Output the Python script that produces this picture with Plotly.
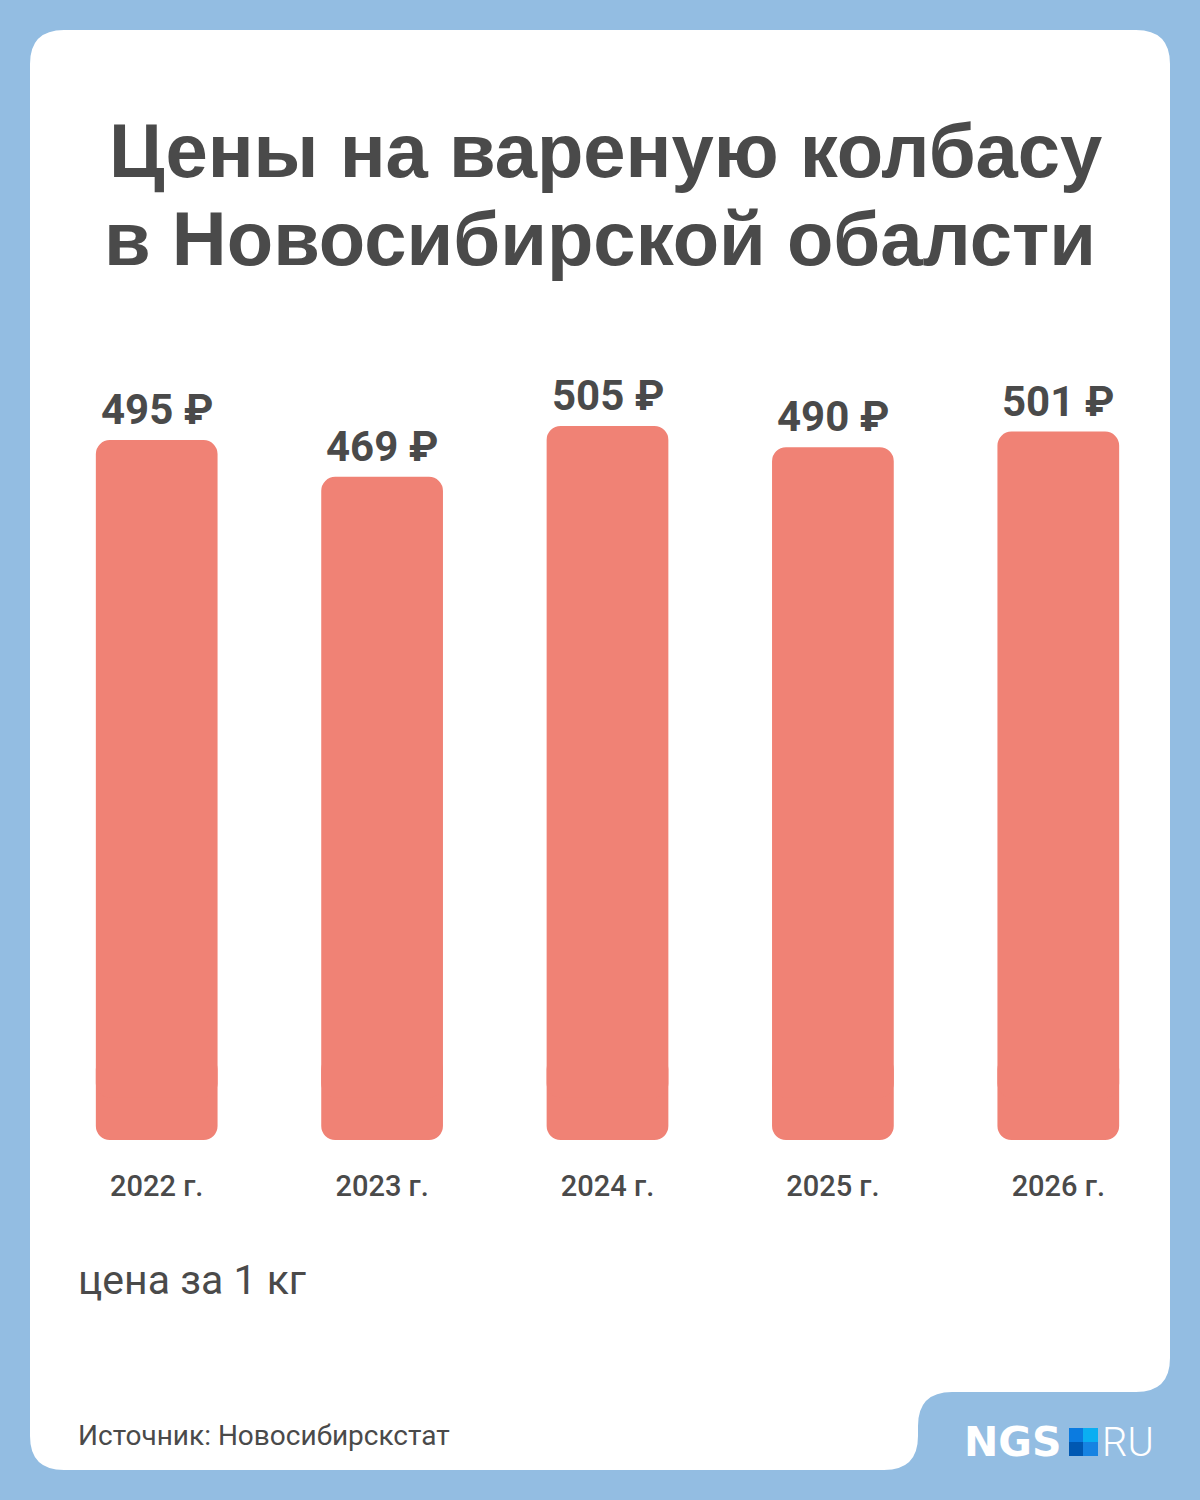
import plotly.graph_objects as go

# Data
years = ["2022 г.", "2023 г.", "2024 г.", "2025 г.", "2026 г."]
prices = [495, 469, 505, 490, 501]
price_labels = ["495 ₽", "469 ₽", "505 ₽", "490 ₽", "501 ₽"]

W, H = 1200, 1500
BG = "#93bde2"
BAR = "#f08275"
INK = "#4a4a4a"


def px(x):
    """pixel x -> paper x (margins are zero)"""
    return x / W


def py(y):
    """pixel y (from top) -> paper y"""
    return 1 - y / H


def card_path():
    # white card with a notch in the lower right corner for the logo
    r = 34
    pts = [
        f"M {px(30 + r)},{py(30)}",
        f"L {px(1170 - r)},{py(30)}",
        f"Q {px(1170)},{py(30)} {px(1170)},{py(30 + r)}",
        f"L {px(1170)},{py(1358)}",
        f"Q {px(1170)},{py(1392)} {px(1136)},{py(1392)}",
        f"L {px(952)},{py(1392)}",
        f"Q {px(918)},{py(1392)} {px(918)},{py(1426)}",
        f"L {px(918)},{py(1436)}",
        f"Q {px(918)},{py(1470)} {px(884)},{py(1470)}",
        f"L {px(30 + r)},{py(1470)}",
        f"Q {px(30)},{py(1470)} {px(30)},{py(1470 - r)}",
        f"L {px(30)},{py(30 + r)}",
        f"Q {px(30)},{py(30)} {px(30 + r)},{py(30)} Z",
    ]
    return " ".join(pts)


fig = go.Figure()

# short downward piece gives the bars their rounded bottom corners
FOOT = 60
fig.add_trace(go.Bar(
    x=years, y=[-FOOT] * len(years), base=[FOOT] * len(years),
    marker=dict(color=BAR, line=dict(width=0), cornerradius=14),
    hoverinfo="skip", showlegend=False,
))
# main bars, rounded at the top
fig.add_trace(go.Bar(
    x=years, y=[v - FOOT / 2 for v in prices], base=[FOOT / 2] * len(years),
    marker=dict(color=BAR, line=dict(width=0), cornerradius=14),
    customdata=prices, hovertemplate="%{x}: %{customdata} ₽<extra></extra>",
    showlegend=False,
))

# value labels above the bars
for yr, v, lab in zip(years, prices, price_labels):
    fig.add_annotation(
        x=yr, y=v, text=lab, showarrow=False, yanchor="bottom", yshift=4,
        font=dict(family="Roboto", size=42, color=INK, weight="bold"),
    )

# title, two lines
fig.add_annotation(
    x=px(605), y=py(178), xref="paper", yref="paper", text="Цены на вареную колбасу",
    showarrow=False, xanchor="center", yanchor="bottom", yshift=-17,
    font=dict(family="Liberation Sans", size=76, color=INK, weight="bold"),
)
fig.add_annotation(
    x=px(600), y=py(266), xref="paper", yref="paper", text="в Новосибирской обалсти",
    showarrow=False, xanchor="center", yanchor="bottom", yshift=-17,
    font=dict(family="Liberation Sans", size=76, color=INK, weight="bold"),
)

# unit note and source
fig.add_annotation(
    x=px(76), y=py(1306), xref="paper", yref="paper", text="цена за 1 кг",
    showarrow=False, xanchor="left", yanchor="bottom",
    font=dict(family="Roboto", size=41, color=INK),
)
fig.add_annotation(
    x=px(76), y=py(1454), xref="paper", yref="paper", text="Источник: Новосибирскстат",
    showarrow=False, xanchor="left", yanchor="bottom",
    font=dict(family="Roboto", size=28, color=INK),
)

# NGS.RU logo
fig.add_annotation(
    x=px(1064), y=py(1442), xref="paper", yref="paper", text="<b>NGS</b>",
    showarrow=False, xanchor="right", yanchor="middle",
    font=dict(family="DejaVu Sans", size=41, color="white"),
)
fig.add_annotation(
    x=px(1100), y=py(1442), xref="paper", yref="paper", text="RU",
    showarrow=False, xanchor="left", yanchor="middle",
    font=dict(family="Roboto", size=40, color="white", weight=300),
)

shapes = [dict(type="path", path=card_path(), xref="paper", yref="paper",
               fillcolor="white", line=dict(width=0), layer="below")]
squares = [
    (1069, 1428, 1083, 1442, "#0b7be0"),
    (1083, 1428, 1098, 1442, "#0aaef2"),
    (1069, 1442, 1083, 1456, "#0058b2"),
    (1083, 1442, 1098, 1456, "#1683e2"),
]
for x0, y0, x1, y1, c in squares:
    shapes.append(dict(type="rect", xref="paper", yref="paper",
                       x0=px(x0), x1=px(x1), y0=py(y1), y1=py(y0),
                       fillcolor=c, line=dict(width=0), layer="above"))

fig.update_layout(
    width=W, height=H,
    margin=dict(l=0, r=0, t=0, b=0),
    paper_bgcolor=BG, plot_bgcolor="rgba(0,0,0,0)",
    barmode="overlay", bargap=0.46,
    shapes=shapes,
    xaxis=dict(
        domain=[px(44), px(1171)], showgrid=False, zeroline=False, showline=False,
        ticks="", ticklabelstandoff=26, fixedrange=True,
        tickfont=dict(family="Roboto", size=29, color=INK, weight=500),
    ),
    yaxis=dict(
        domain=[py(1140), py(340)], range=[0, 800 / 1.414], visible=False,
        fixedrange=True,
    ),
)

# the page body has a default 8px margin; drop it so the figure fills the window
fig.write_html("out.html", config={"displayModeBar": False},
               post_script="document.body.style.margin='0';")
